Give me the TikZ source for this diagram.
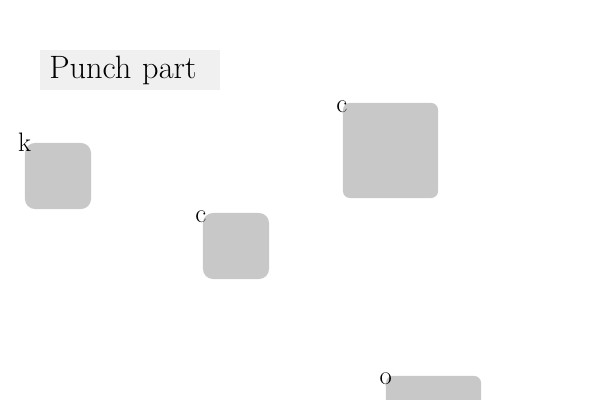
\documentclass[tikz,border=0pt]{standalone}
\usetikzlibrary{positioning}

\begin{document}
\begin{tikzpicture}[x=0.025cm,y=-0.025cm,
        part/.style={fill={rgb,255:red,200;green,200;blue,200},inner sep=0pt,
            rounded corners=0.25cm,minimum width=1.65cm,minimum height=1.65cm},
        bigpart/.style={part,rounded corners=0.17cm,minimum width=2.375cm,minimum height=2.375cm},
        tag/.style={inner sep=0pt,anchor=center,font=\fontsize{19}{22}\selectfont}]
                \useasboundingbox (0,0) rectangle (600,400);
                \node[fill={rgb,255:red,240;green,240;blue,240},anchor=north west,inner xsep=0.225cm,
                    text width=4.05cm,align=left,minimum height=1cm,font=\fontsize{23}{27}\selectfont]
                    (punch) at (40,50) {Punch part};
                \node[part] (p_k) at (58,176) {};
                \node[part] (p_c1) at (236,246) {};
                \node[bigpart] (p_c2) at (390.5,150.5) {};
                \node[bigpart] (p_o) at (433.5,423.5) {};
                \node[tag] at ([shift={(0,0)}]p_k.north west) {k};
                \node[tag] at ([shift={(-2,4)}]p_c1.north west) {c};
                \node[tag] at ([shift={(-1,4)}]p_c2.north west) {c};
                \node[tag] at ([shift={(0,3)}]p_o.north west) {o};
            \end{tikzpicture}
\end{document}
